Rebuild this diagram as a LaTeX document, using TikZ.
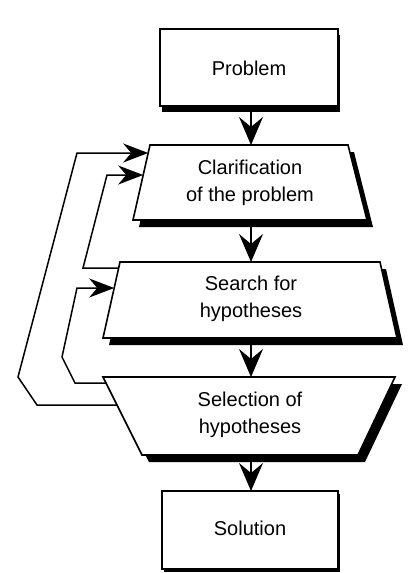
\documentclass[tikz,border=0pt]{standalone}
\usepackage{fontspec}
\setmainfont{Liberation Sans}
\usetikzlibrary{arrows.meta}
\begin{document}
\begin{tikzpicture}[x=1pt,y=-1pt,
  boxline/.style={draw=black,line width=1.6pt,fill=white,line join=miter},
  shade/.style={fill=black},
  fb/.style={draw=black,line width=1.5pt,line join=miter},
  vhead/.style={-{Stealth[length=28pt,width=24pt,inset=10pt]}},
  shead/.style={-{Stealth[length=25pt,width=19pt,inset=8pt]}},
  txt/.style={font=\fontsize{20}{27}\selectfont,align=center,inner sep=0pt}]
\useasboundingbox[fill=white] (0,0) rectangle (415,573);

% Problem
\fill[shade] (162,35) rectangle (340,112);
\draw[boxline] (160,29) rectangle (338,106);
\node[txt] (prob) at (249,68) {Problem};

% Clarification
\fill[shade,shift={(6,7)}] (150,145) -- (348,145) -- (367,220) -- (133,220) -- cycle;
\draw[boxline] (150,145) -- (348,145) -- (367,220) -- (133,220) -- cycle;
\node[txt] (clar) at (250,183) {Clarification\\of the problem};

% Search
\fill[shade,shift={(6,7)}] (120,262) -- (380,262) -- (397,338) -- (103,338) -- cycle;
\draw[boxline] (120,262) -- (380,262) -- (397,338) -- (103,338) -- cycle;
\node[txt] (srch) at (251,299) {Search for\\hypotheses};

% Selection
\fill[shade,shift={(7,7)}] (103,377) -- (395,377) -- (358,455) -- (142,455) -- cycle;
\draw[boxline] (103,377) -- (395,377) -- (358,455) -- (142,455) -- cycle;
\node[txt] (sel) at (250,415) {Selection of\\hypotheses};

% Solution
\fill[shade] (164,494) rectangle (340,572);
\draw[boxline] (162,491) rectangle (338,569);
\node[txt] (sol) at (250,528) {Solution};

% connector end points
\coordinate (p-s) at (251,106);
\coordinate (c-n) at (251,145);
\coordinate (c-s) at (251,220);
\coordinate (s-n) at (251,262);
\coordinate (s-s) at (251,338);
\coordinate (l-n) at (251,377);
\coordinate (l-s) at (251,455);
\coordinate (o-n) at (251,491);
\coordinate (c-w1) at (148.2,153);
\coordinate (c-w2) at (143.2,175);
\coordinate (s-w1) at (118.7,268);
\coordinate (s-w2) at (114.2,288);
\coordinate (l-w1) at (117,405);
\coordinate (l-w2) at (106,383);

% main flow
\draw[fb,vhead] (p-s) -- (c-n);
\draw[fb,vhead] (c-s) -- (s-n);
\draw[fb,vhead] (s-s) -- (l-n);
\draw[fb,vhead] (l-s) -- (o-n);

% feedback loops
\draw[fb,shead] (l-w1) -- (37,405) -- (18,377) -- (77,153) -- (c-w1);
\draw[fb,shead] (s-w1) -- (83,268) -- (107,175) -- (c-w2);
\draw[fb,shead] (l-w2) -- (75,383) -- (62,357) -- (77,288) -- (s-w2);
\end{tikzpicture}
\end{document}
